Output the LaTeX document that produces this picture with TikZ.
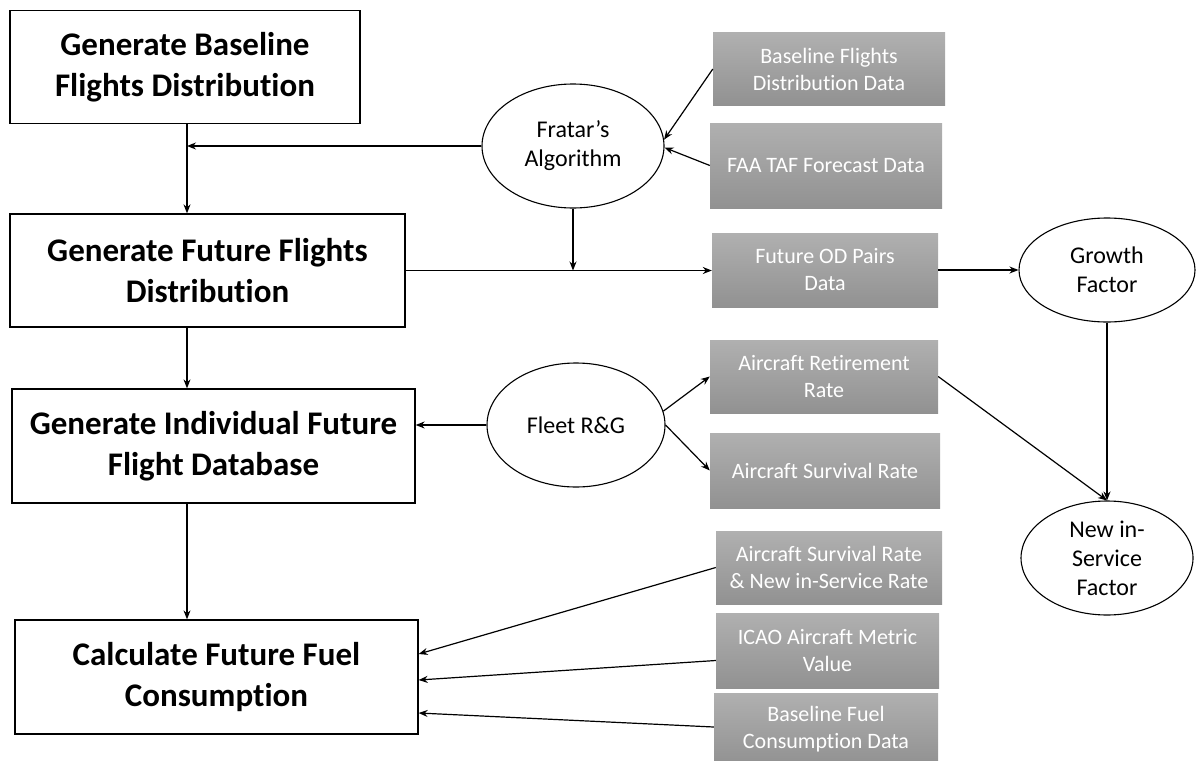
\documentclass[tikz,border=0pt]{standalone}
\usepackage{fontspec}
\setmainfont{Carlito}[Ligatures=NoCommon]
\usepackage{xcolor}
\usepackage{tikz}
\usetikzlibrary{arrows.meta}
\usetikzlibrary{shapes.geometric}
\tikzstyle{stepbox} = [rectangle, draw=black, line width=1.3pt, inner sep=0pt, align=center, font=\fontsize{33}{41}\selectfont\bfseries]
\tikzstyle{databox} = [rectangle, inner sep=0pt, align=center, top color=black!31, bottom color=black!43, text=white, font=\fontsize{22}{27}\selectfont]
\tikzstyle{oval} = [ellipse, draw=black, line width=1.1pt, inner sep=0pt, align=center, font=\fontsize{24}{29}\selectfont]
\tikzstyle{arrow} = [line width=1.2pt,-{Stealth[length=9pt,width=7pt]}]

\begin{document}
\begin{tikzpicture}[x=1pt, y=-1pt]
    \useasboundingbox (0,0) rectangle (1196,760);
    % main steps
    \node(base)[stepbox, minimum width=350, minimum height=113] at (185,67) {Generate Baseline\\Flights Distribution};
    \node(future)[stepbox, minimum width=395, minimum height=113] at (207.5,270.5) {Generate Future Flights\\Distribution};
    \node(indiv)[stepbox, minimum width=403, minimum height=114] at (213.5,446) {Generate Individual Future\\Flight Database};
    \node(fuelcalc)[stepbox, minimum width=403, minimum height=114] at (216.5,677) {Calculate Future Fuel\\Consumption};
    \coordinate(spine) at (187,0);
    %
    \node(fratar)[oval, minimum width=182, minimum height=124] at (573,146) {Fratar's\\Algorithm};
    \node(fleet)[oval, minimum width=178, minimum height=124] at (576,425) {Fleet R\&G};
    \node(growth)[oval, minimum width=176, minimum height=104] at (1107,270) {Growth\\Factor};
    \node(newins)[oval, minimum width=172, minimum height=114] at (1107,558) {New in-\\Service\\Factor};
    % data
    \node(bfdata)[databox, minimum width=232, minimum height=72] at (829,69) {Baseline Flights\\Distribution Data};
    \node(taf)[databox, minimum width=232, minimum height=85] at (826,165.5) {FAA TAF Forecast Data};
    \node(odpairs)[databox, minimum width=226, minimum height=74] at (825,270) {Future OD Pairs\\Data};
    \node(retire)[databox, minimum width=228, minimum height=73] at (824,376.5) {Aircraft Retirement\\Rate};
    \node(survive)[databox, minimum width=230, minimum height=75] at (825,470.5) {Aircraft Survival Rate};
    \node(survnew)[databox, minimum width=226, minimum height=73] at (829,567.5) {Aircraft Survival Rate\\\& New in-Service Rate};
    \node(icao)[databox, minimum width=223, minimum height=75] at (827.5,650.5) {ICAO Aircraft Metric\\Value};
    \node(bfuel)[databox, minimum width=224, minimum height=72] at (826,729) {Baseline Fuel\\Consumption Data};
    %
    \draw [arrow] (base.south -| spine) -- (future.north -| spine);
    \draw [arrow] (future.south -| spine) -- (indiv.north -| spine);
    \draw [arrow] (indiv.south -| spine) -- (fuelcalc.north -| spine);
    \draw [arrow] (fratar.west) -- (fratar.west -| spine);
    \draw [arrow] (future.east) -- (odpairs.west |- future.east);
    \draw [arrow] (fratar.south) -- (fratar.south |- future.east);
    \draw [arrow] (bfdata.west) -- (fratar.4);
    \draw [arrow] (taf.west) -- (fratar.-1);
    \draw [arrow] (odpairs.east) -- (growth.west);
    \draw [arrow] (growth.south) -- (newins.north);
    \draw [arrow] (retire.east) -- (newins.north);
    \draw [arrow] (fleet.west) -- (fleet.west -| indiv.east);
    \draw [arrow] (fleet.9) -- (retire.west);
    \draw [arrow] (fleet.east) -- (survive.west);
    \draw [arrow] (survnew.west) -- ([yshift=23pt]fuelcalc.east);
    \draw [arrow] ([yshift=-10pt]icao.west) -- ([yshift=-3pt]fuelcalc.east);
    \draw [arrow] ([yshift=2pt]bfuel.west) -- ([yshift=-36pt]fuelcalc.east);
\end{tikzpicture}
\end{document}
